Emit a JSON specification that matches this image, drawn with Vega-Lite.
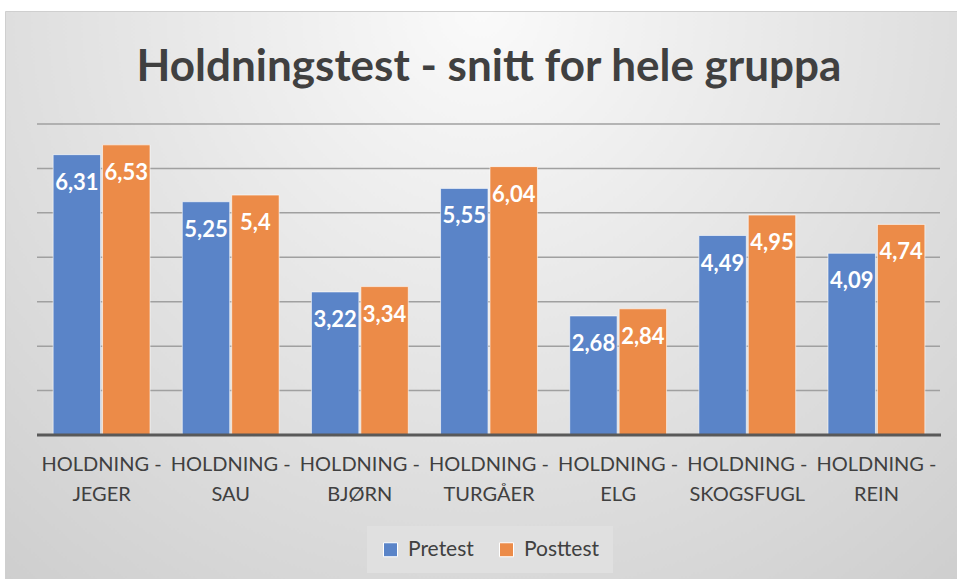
{
  "$schema": "https://vega.github.io/schema/vega-lite/v6.json",
  "autosize": "none",
  "width": 952,
  "height": 568,
  "padding": {"left": 5, "top": 11, "right": 0, "bottom": 0},
  "background": "#ffffff",
  "view": {
    "stroke": "#cfcfcf",
    "fill": {
      "gradient": "radial",
      "x1": 0.5, "y1": 0.2, "r1": 0,
      "x2": 0.5, "y2": 0.2, "r2": 0.8,
      "stops": [
        {"offset": 0, "color": "#fafafa"},
        {"offset": 1, "color": "#cdcdcd"}
      ]
    }
  },
  "title": {
    "text": "Holdningstest - snitt for hele gruppa",
    "font": "Lato",
    "fontSize": 44,
    "fontWeight": "bold",
    "color": "#404040",
    "anchor": "middle",
    "dx": 8,
    "offset": -79
  },
  "datasets": {
    "scores": [
      {"holdning": "HOLDNING - JEGER", "test": "Pretest", "value": 6.31},
      {"holdning": "HOLDNING - JEGER", "test": "Posttest", "value": 6.53},
      {"holdning": "HOLDNING - SAU", "test": "Pretest", "value": 5.25},
      {"holdning": "HOLDNING - SAU", "test": "Posttest", "value": 5.4},
      {"holdning": "HOLDNING - BJØRN", "test": "Pretest", "value": 3.22},
      {"holdning": "HOLDNING - BJØRN", "test": "Posttest", "value": 3.34},
      {"holdning": "HOLDNING - TURGÅER", "test": "Pretest", "value": 5.55},
      {"holdning": "HOLDNING - TURGÅER", "test": "Posttest", "value": 6.04},
      {"holdning": "HOLDNING - ELG", "test": "Pretest", "value": 2.68},
      {"holdning": "HOLDNING - ELG", "test": "Posttest", "value": 2.84},
      {"holdning": "HOLDNING - SKOGSFUGL", "test": "Pretest", "value": 4.49},
      {"holdning": "HOLDNING - SKOGSFUGL", "test": "Posttest", "value": 4.95},
      {"holdning": "HOLDNING - REIN", "test": "Pretest", "value": 4.09},
      {"holdning": "HOLDNING - REIN", "test": "Posttest", "value": 4.74}
    ],
    "grid": [{"g": 1}, {"g": 2}, {"g": 3}, {"g": 4}, {"g": 5}, {"g": 6}, {"g": 7}]
  },
  "resolve": {"scale": {"x": "independent"}},
  "layer": [
    {
      "data": {"name": "grid"},
      "mark": {"type": "rule", "color": "#a0a0a0", "strokeWidth": 1.5},
      "encoding": {
        "x": {"datum": 0, "type": "quantitative", "scale": {"domain": [0, 1], "range": [32, 935]}, "axis": null},
        "x2": {"datum": 1},
        "y": {"field": "g", "type": "quantitative", "scale": {"domain": [-3.241, 9.543], "nice": false, "zero": false}, "axis": null}
      }
    },
    {
      "data": {"name": "scores"},
      "mark": {"type": "bar", "stroke": "#ffffff", "strokeWidth": 1, "strokeOpacity": 0.6},
      "encoding": {
        "x": {
          "field": "holdning", "type": "nominal", "sort": null,
          "scale": {"range": [32, 936], "paddingInner": 0.25, "paddingOuter": 0.125},
          "axis": {
            "orient": "bottom", "offset": -144, "domain": false, "ticks": false,
            "title": null, "labelAngle": 0, "labelLimit": 0,
            "labelFont": "Lato", "labelFontSize": 20, "labelColor": "#404040",
            "labelPadding": 19, "labelLineHeight": 30,
            "labelExpr": "['HOLDNING -', substring(datum.label, 11)]"
          }
        },
        "xOffset": {"field": "test", "type": "nominal", "sort": ["Pretest", "Posttest"], "scale": {"paddingInner": 0.04}},
        "y": {"field": "value", "type": "quantitative", "scale": {"domain": [-3.241, 9.543], "nice": false, "zero": false}, "axis": null},
        "y2": {"datum": 0},
        "color": {
          "field": "test", "type": "nominal",
          "scale": {"domain": ["Pretest", "Posttest"], "range": ["#5a84c8", "#ec8b48"]},
          "legend": {
            "orient": "none", "legendX": 362, "legendY": 515, "direction": "horizontal",
            "title": null, "fillColor": "#e0e0e0", "padding": 13,
            "symbolType": "square", "symbolSize": 196, "symbolStrokeColor": "#ffffff", "symbolStrokeWidth": 1,
            "labelFont": "Lato", "labelFontSize": 21, "labelColor": "#404040",
            "labelOffset": 7, "columnPadding": 22
          }
        }
      }
    },
    {
      "data": {"values": [{"b": 0}]},
      "mark": {"type": "rule", "color": "#595959", "strokeWidth": 3},
      "encoding": {
        "x": {"datum": 0, "type": "quantitative", "scale": {"domain": [0, 1], "range": [32, 936]}, "axis": null},
        "x2": {"datum": 1},
        "y": {"field": "b", "type": "quantitative", "scale": {"domain": [-3.241, 9.543], "nice": false, "zero": false}, "axis": null}
      }
    },
    {
      "data": {"name": "scores"},
      "mark": {"type": "text", "font": "Lato", "fontSize": 22, "fontWeight": "bold", "color": "#ffffff", "baseline": "alphabetic", "dy": 35},
      "encoding": {
        "x": {"field": "holdning", "type": "nominal", "sort": null, "scale": {"range": [32, 936], "paddingInner": 0.25, "paddingOuter": 0.125}, "axis": null},
        "xOffset": {"field": "test", "type": "nominal", "sort": ["Pretest", "Posttest"], "scale": {"paddingInner": 0.04}},
        "y": {"field": "value", "type": "quantitative", "scale": {"domain": [-3.241, 9.543], "nice": false, "zero": false}, "axis": null},
        "text": {"field": "value", "type": "quantitative", "format": ".3~g"}
      }
    }
  ],
  "config": {
    "locale": {"number": {"decimal": ",", "thousands": " ", "grouping": [3], "currency": ["", " kr"]}}
  }
}
